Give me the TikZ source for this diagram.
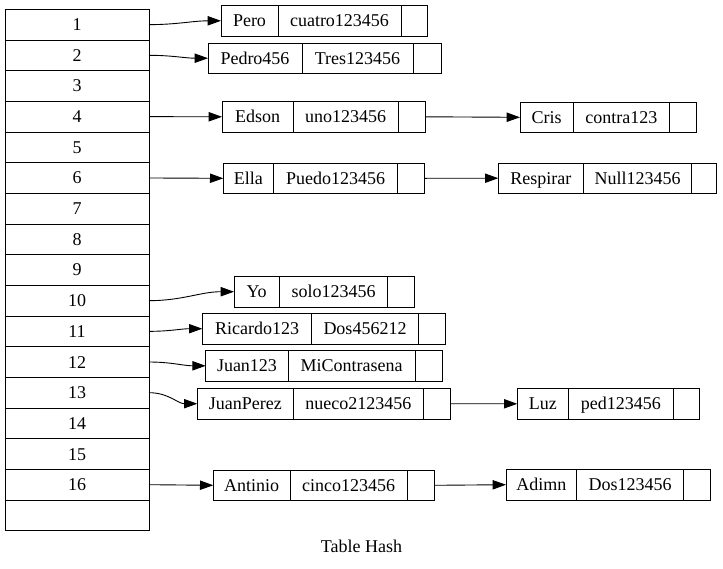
\documentclass[tikz,border=0pt]{standalone}
\usepackage{fontspec}
\setmainfont{Liberation Serif}
\usetikzlibrary{arrows.meta,positioning}

% one record: node name, x, y, three widths, user, password
\newcommand{\registro}[8]{%
  \node[campo, minimum width=#4pt, anchor=west] (#1-n) at (#2,#3) {#7};
  \node[campo, minimum width=#5pt, right=0pt of #1-n] (#1-c) {#8};
  \node[campo, minimum width=#6pt, right=0pt of #1-c] (#1-p) {};
}

\begin{document}
\begin{tikzpicture}[x=1pt, y=-1pt, line width=0.9pt,
    font=\fontsize{18}{21}\selectfont,
    celda/.style={draw, minimum width=144pt, minimum height=30.67pt,
      inner sep=0pt, outer sep=0pt, text height=12pt, text depth=0pt},
    campo/.style={draw, minimum height=30.5pt, inner sep=0pt, outer sep=0pt,
      text height=12pt, text depth=0pt},
    flecha/.style={-{Triangle[length=13.3pt,width=9.3pt]}}]
  \useasboundingbox (0,0) rectangle (723,568);

  % the table
  \foreach \i in {1,...,16}
    \node[celda] (t\i) at (77,{9.3+30.67*(\i-0.5)}) {\i};
  \node[celda] (t17) at (77,{9.3+30.67*16.5}) {};

  % the lists
  \registro{pero}{221}{20.8}{57}{123}{26}{Pero}{cuatro123456}
  \registro{pedro}{208}{58.2}{94}{111}{28}{Pedro456}{Tres123456}
  \registro{edson}{222}{116.8}{71}{105}{27}{Edson}{uno123456}
  \registro{cris}{520}{117.3}{53.3}{96}{26.7}{Cris}{contra123}
  \registro{ella}{223.3}{178.3}{50}{124.4}{26.3}{Ella}{Puedo123456}
  \registro{respirar}{498.3}{178.2}{85}{108.4}{25}{Respirar}{Null123456}
  \registro{yo}{234}{291.7}{45.3}{108.4}{26.3}{Yo}{solo123456}
  \registro{ricardo}{202.3}{328.7}{109.4}{106.6}{26.7}{Ricardo123}{Dos456212}
  \registro{juan}{205.7}{365.8}{82.6}{126.7}{27.3}{Juan123}{MiContrasena}
  \registro{juanperez}{197.3}{403.7}{96}{130}{27.4}{JuanPerez}{nueco2123456}
  \registro{luz}{517.3}{403.8}{51}{105}{26}{Luz}{ped123456}
  \registro{antinio}{213.3}{485.3}{76.7}{117.3}{26.7}{Antinio}{cinco123456}
  \registro{adimn}{506}{484.7}{70.7}{106.6}{26.7}{Adimn}{Dos123456}

  \node[text height=12pt, text depth=0pt] (titulo) at (361.5,546) {Table Hash};

  % table -> first record
  \draw[flecha] (t1.east) to[out=0,in=180] (pero-n.west);
  \draw[flecha] (t2.east) to[out=0,in=180] (pedro-n.west);
  \draw[flecha] (t4.east) -- (edson-n.west);
  \draw[flecha] (t6.east) -- (ella-n.west);
  \draw[flecha] (t10.east) to[out=0,in=180] (yo-n.west);
  \draw[flecha] (t11.east) to[out=0,in=180] (ricardo-n.west);
  \draw[flecha] (t12.east) to[out=0,in=180] (juan-n.west);
  \draw[flecha] (t13.east) to[out=0,in=180] (juanperez-n.west);
  \draw[flecha] (t16.east) -- (antinio-n.west);

  % next pointers
  \draw[flecha] (edson-p.east) -- (cris-n.west);
  \draw[flecha] (ella-p.east) -- (respirar-n.west);
  \draw[flecha] (juanperez-p.east) -- (luz-n.west);
  \draw[flecha] (antinio-p.east) -- (adimn-n.west);
\end{tikzpicture}
\end{document}
